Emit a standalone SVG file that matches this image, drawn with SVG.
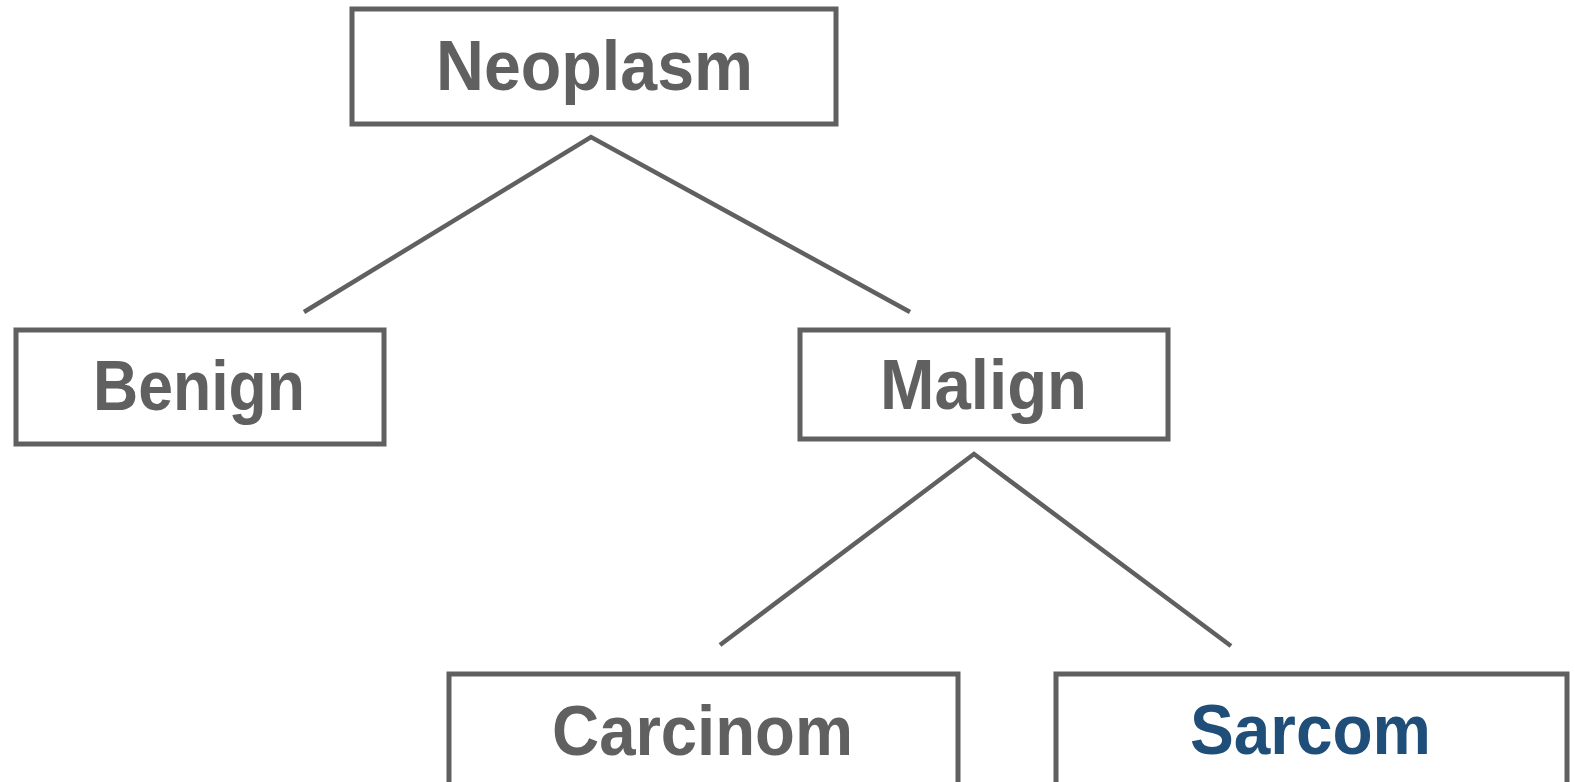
<svg xmlns="http://www.w3.org/2000/svg" width="1575" height="782" viewBox="0 0 1575 782">
<style>
.box{fill:#fff;stroke:#606060;stroke-width:5}
.lbl{font-family:"Liberation Sans",Arial,sans-serif;font-weight:bold;font-size:70px;fill:#606060;text-anchor:middle}
.blue{fill:#1F4E79}
.con{stroke:#606060;stroke-width:4.5;fill:none}
</style>
<rect width="1575" height="782" fill="#fff"/>
<g id="connectors">
<polyline class="con" points="304,312 591,137 910,312"/>
<polyline class="con" points="720,645 974,454 1231,646"/>
</g>
<g id="neoplasm">
<rect class="box" x="352" y="9" width="484" height="115"/>
<text class="lbl" x="594.5" y="90" textLength="317" lengthAdjust="spacingAndGlyphs">Neoplasm</text>
</g>
<g id="benign">
<rect class="box" x="16" y="330" width="368" height="114"/>
<text class="lbl" x="199" y="410" textLength="212" lengthAdjust="spacingAndGlyphs">Benign</text>
</g>
<g id="malign">
<rect class="box" x="800" y="330" width="368" height="109"/>
<text class="lbl" x="983.5" y="409" textLength="207" lengthAdjust="spacingAndGlyphs">Malign</text>
</g>
<g id="carcinom">
<rect class="box" x="449" y="674" width="509" height="120"/>
<text class="lbl" x="702.5" y="755" textLength="301" lengthAdjust="spacingAndGlyphs">Carcinom</text>
</g>
<g id="sarcom">
<rect class="box" x="1056" y="674" width="511" height="120"/>
<text class="lbl blue" x="1310.5" y="754" textLength="241" lengthAdjust="spacingAndGlyphs">Sarcom</text>
</g>
</svg>
